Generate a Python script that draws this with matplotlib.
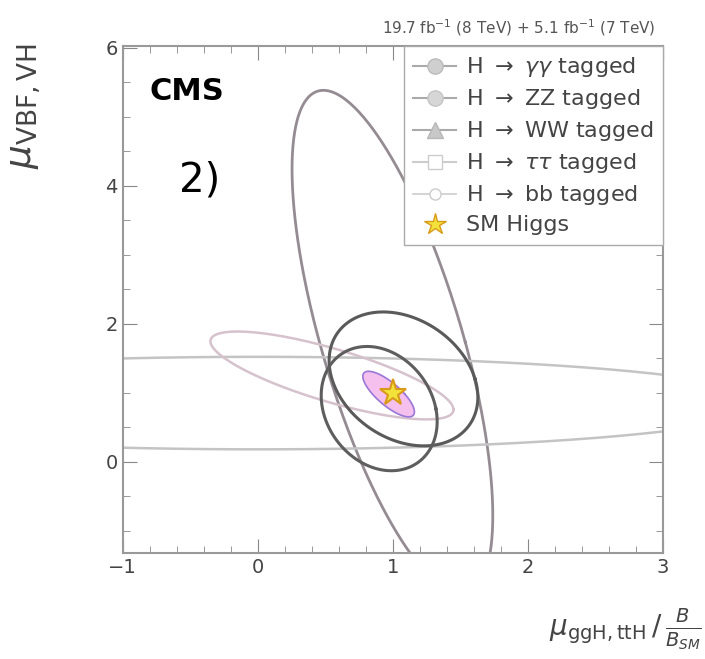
import numpy as np
import matplotlib.pyplot as plt
from matplotlib.lines import Line2D
from matplotlib.ticker import MultipleLocator

# 68% CL contours: centre, half-extents and shear (u -> x, v -> y)
names = ["tall", "band", "left", "outer", "inner", "core"]
cx = [0.998, 0.0, 0.55, 1.08, 0.90, 0.97]
cy = [1.73, 0.85, 1.25, 1.20, 0.77, 0.98]
rx = [0.54, 3.80, 0.90, 0.53, 0.42, 0.12]
ry = [3.65, 0.67, 0.40, 0.97, 0.90, 0.33]
kx = [-0.14, 0.0, 0.0, -0.155, -0.10, -0.45]
ky = [0.0, 0.0, -0.55, 0.0, 0.0, 0.0]
colors = ["#948c92", "#c4c4c4", "#d6c2cc", "#5a5a5a", "#5e5e5e", "#9a7ad8"]
widths = [2.0, 1.8, 1.8, 2.2, 2.2, 1.2]

sm_x, sm_y = [1.0], [1.0]

legend_labels = [r"H $\rightarrow$ $\gamma\gamma$ tagged",
                 r"H $\rightarrow$ ZZ tagged",
                 r"H $\rightarrow$ WW tagged",
                 r"H $\rightarrow$ $\tau\tau$ tagged",
                 r"H $\rightarrow$ bb tagged",
                 "SM Higgs"]


def ellipse(i, n=400):
    t = np.linspace(0, 2 * np.pi, n)
    u = rx[i] * np.cos(t)
    v = ry[i] * np.sin(t)
    return cx[i] + u + kx[i] * v, cy[i] + v + ky[i] * u


fig = plt.figure(figsize=(7.05, 6.59), dpi=100)
ax = fig.add_axes([0.174, 0.161, 0.766, 0.769])

for i in range(len(names)):
    x, y = ellipse(i)
    if names[i] == "core":
        ax.fill(x, y, color="#f6c0ee", zorder=3)
        ax.plot(x, y, color=colors[i], lw=widths[i], zorder=3)
    else:
        ax.plot(x, y, color=colors[i], lw=widths[i], zorder=2)

ax.plot(sm_x, sm_y, marker="*", ms=20, color="#f2e23a", mec="#d99a1a", mew=1.5,
        ls="none", zorder=5)

ax.set_xlim(-1, 3)
ax.set_ylim(-1.32, 6.02)
ax.xaxis.set_major_locator(MultipleLocator(1))
ax.yaxis.set_major_locator(MultipleLocator(2))
ax.xaxis.set_minor_locator(MultipleLocator(0.2))
ax.yaxis.set_minor_locator(MultipleLocator(0.5))
ax.tick_params(which="both", direction="in", top=True, right=True,
               color="#888888", labelsize=14, labelcolor="#444444")
ax.tick_params(which="major", length=10)
ax.tick_params(which="minor", length=5)
for s in ax.spines.values():
    s.set_color("#999999")
    s.set_linewidth(1.5)

# legend
handles = [
    Line2D([], [], color="#aaaaaa", marker="o", ms=11, mfc="#cfcfcf", mec="#bbbbbb", lw=1.5),
    Line2D([], [], color="#aaaaaa", marker="o", ms=11, mfc="#d6d6d6", mec="#c4c4c4", lw=1.5),
    Line2D([], [], color="#aaaaaa", marker="^", ms=12, mfc="#c8c8c8", mec="#b8b8b8", lw=1.5),
    Line2D([], [], color="#cccccc", marker="s", ms=10, mfc="white", mec="#cccccc", lw=1.5),
    Line2D([], [], color="#cccccc", marker="o", ms=8, mfc="white", mec="#cccccc", lw=1.2),
    Line2D([], [], color="#d99a1a", marker="*", ms=16, mfc="#f2e23a", mec="#d99a1a", lw=0),
]
leg = ax.legend(handles, legend_labels, loc="upper right",
                bbox_to_anchor=(1.0, 1.0), borderaxespad=0,
                fontsize=16, labelspacing=0.36,
                handlelength=1.9, handletextpad=0.45, fancybox=False,
                framealpha=1, edgecolor="#aaaaaa", borderpad=0.42)
for txt in leg.get_texts():
    txt.set_color("#444444")
leg.set_zorder(6)

ax.text(0.05, 0.91, "CMS", transform=ax.transAxes, fontsize=22,
        fontweight="bold", va="center", ha="left")
ax.text(0.105, 0.735, "2)", transform=ax.transAxes, fontsize=29,
        va="center", ha="left")

fig.text(0.93, 0.942, r"19.7 fb$^{-1}$ (8 TeV) + 5.1 fb$^{-1}$ (7 TeV)",
         fontsize=11, ha="right", va="bottom", color="#555555")

fig.text(0.035, 0.935, r"$\mu_{\mathrm{VBF,VH}}$", rotation=90, fontsize=27,
         ha="center", va="top", color="#444444")
fig.text(0.995, 0.01, r"$\mu_{\mathrm{ggH,ttH}}\,/\,\frac{B}{B_{SM}}$", fontsize=20,
         ha="right", va="bottom", color="#444444")

fig.savefig("out.png", dpi=100)
